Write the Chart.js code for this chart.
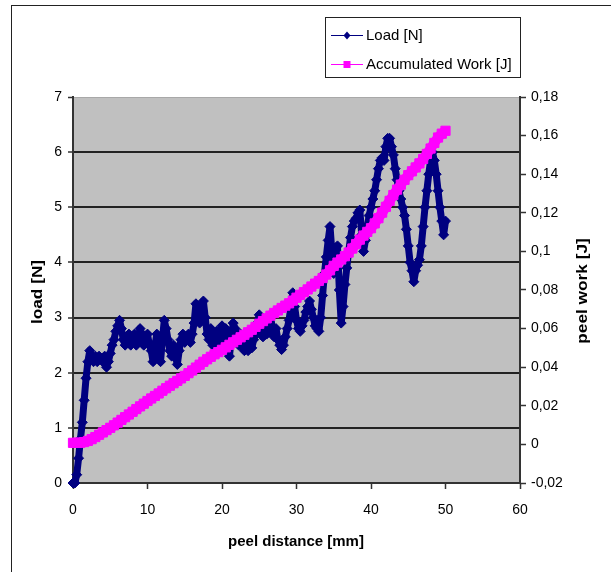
<!DOCTYPE html>
<html>
<head>
<meta charset="utf-8">
<script src="https://cdn.jsdelivr.net/npm/chart.js@4.4.0/dist/chart.umd.min.js"></script>
<style>
  html, body { margin: 0; padding: 0; background: #fff; }
</style>
</head>
<body>
<canvas id="peelChart" width="611" height="572"></canvas>
<script>
  // load samples every 0.25 mm, work samples every 0.5 mm
  const loadStep = 0.25
  const workStep = 0.5

  const loadN = [
    0.0, 0.0, 0.15, 0.45,   0.8, 1.1, 1.5, 1.9,     2.2, 2.4, 2.3, 2.2,     2.3, 2.2, 2.3, 2.25,
    2.2, 2.3, 2.1, 2.2,     2.35, 2.5, 2.6, 2.75,   2.85, 2.95, 2.8, 2.6,   2.5, 2.6, 2.7, 2.5,
    2.6, 2.7, 2.5, 2.6,     2.8, 2.7, 2.5, 2.6,     2.7, 2.5, 2.4, 2.2,     2.5, 2.7, 2.4, 2.2,
    2.6, 2.95, 2.8, 2.6,    2.4, 2.3, 2.5, 2.3,     2.15, 2.4, 2.6, 2.7,    2.55, 2.6, 2.7, 2.55,
    2.7, 2.9, 3.25, 3.1,    2.9, 3.1, 3.3, 3.0,     2.7, 2.6, 2.8, 2.5,     2.6, 2.75, 2.55, 2.7,
    2.85, 2.6, 2.8, 2.5,    2.3, 2.6, 2.9, 2.8,     2.6, 2.5, 2.7, 2.5,     2.4, 2.55, 2.4, 2.6,
    2.45, 2.6, 2.7, 2.9,    3.05, 2.8, 2.65, 2.8,   2.7, 2.9, 3.05, 2.8,    2.65, 2.8, 2.6, 2.5,
    2.42, 2.5, 2.65, 2.8,   2.95, 3.2, 3.45, 3.2,   2.95, 2.8, 2.75, 2.85,  2.95, 3.1, 3.2, 3.3,
    3.15, 3.0, 2.85, 2.8,   2.75, 3.0, 3.4, 3.8,    4.1, 4.4, 4.65, 4.2,    3.8, 4.0, 4.3, 3.5,
    2.9, 3.2, 3.6, 3.9,     4.2, 4.45, 4.65, 4.75,  4.8, 4.9, 4.95, 4.5,    4.2, 4.4, 4.65, 4.85,
    5.0, 5.15, 5.3, 5.5,    5.7, 5.85, 5.9, 5.85,   6.1, 6.25, 6.25, 6.1,   5.95, 5.7, 5.5, 5.3,
    5.15, 5.0, 4.85, 4.6,   4.3, 4.0, 3.85, 3.65,   3.85, 3.95, 4.05, 4.3,  4.65, 5.0, 5.3, 5.6,
    5.85, 6.0, 5.85, 5.6,   5.3, 5.0, 4.75, 4.5,
    4.75
  ]

  const workJ = [
    0.0008, 0.0008, 0.0009, 0.0012, 0.0018, 0.0027, 0.0038, 0.0050, 0.0062, 0.0074,
    0.0086, 0.0099, 0.0113, 0.0127, 0.0141, 0.0155, 0.0169, 0.0183, 0.0197, 0.0211,
    0.0225, 0.0238, 0.0251, 0.0264, 0.0278, 0.0291, 0.0304, 0.0317, 0.0329, 0.0342,
    0.0355, 0.0369, 0.0383, 0.0398, 0.0413, 0.0428, 0.0441, 0.0454, 0.0467, 0.0478,
    0.0490, 0.0503, 0.0516, 0.0529, 0.0542, 0.0555, 0.0568, 0.0581, 0.0594, 0.0609,
    0.0625, 0.0639, 0.0653, 0.0667, 0.0681, 0.0694, 0.0707, 0.0719, 0.0731, 0.0745,
    0.0760, 0.0775, 0.0789, 0.0803, 0.0818, 0.0833, 0.0847, 0.0862, 0.0880, 0.0902,
    0.0925, 0.0942, 0.0958, 0.0975, 0.0994, 0.1015, 0.1038, 0.1061, 0.1082, 0.1101,
    0.1120, 0.1145, 0.1172, 0.1201, 0.1231, 0.1262, 0.1292, 0.1320, 0.1346, 0.1371,
    0.1395, 0.1415, 0.1435, 0.1456, 0.1479, 0.1505, 0.1533, 0.1562, 0.1590, 0.1610,
    0.1625
  ]

  const xTicks = [0, 10, 20, 30, 40, 50, 60]
  const loadTicks = [0, 1, 2, 3, 4, 5, 6, 7]
  const workTicks = [-0.02, 0, 0.02, 0.04, 0.06, 0.08, 0.1, 0.12, 0.14, 0.16, 0.18]

  const seriesNames = ["Load [N]", "Accumulated Work [J]"]
  const navy = "#000080"
  const magenta = "#ff00ff"
  const fontFamily = "'Liberation Sans', Arial, sans-serif"

  const loadPoints = loadN.map((v, i) => ({ x: i * loadStep, y: v }))
  const workPoints = workJ.map((v, i) => ({ x: i * workStep, y: v }))

  const commaNum = (v) => String(Math.round(v * 100) / 100).replace(".", ",")

  // background, frame, legend and rotated axis titles
  const decor = {
    id: "decor",
    beforeDraw(chart) {
      const { ctx, chartArea: a } = chart
      ctx.save()
      ctx.fillStyle = "#fff"
      ctx.fillRect(0, 0, chart.width, chart.height)
      ctx.strokeStyle = "#222"
      ctx.lineWidth = 1
      ctx.strokeRect(11.5, 5.5, 800, 800)
      ctx.fillStyle = "#c0c0c0"
      ctx.fillRect(a.left, a.top, a.right - a.left, a.bottom - a.top)
      ctx.restore()
    },
    afterDraw(chart) {
      const ctx = chart.ctx
      ctx.save()

      // legend box
      ctx.fillStyle = "#fff"
      ctx.fillRect(325.5, 17.5, 195, 60)
      ctx.strokeStyle = "#222"
      ctx.lineWidth = 1
      ctx.strokeRect(325.5, 17.5, 195, 60)

      const rows = [
        { y: 35, color: navy, name: seriesNames[0], diamond: true },
        { y: 64, color: magenta, name: seriesNames[1], diamond: false },
      ]
      rows.forEach((r) => {
        ctx.strokeStyle = r.color
        ctx.lineWidth = 1
        ctx.beginPath()
        ctx.moveTo(331, r.y + 0.5)
        ctx.lineTo(363, r.y + 0.5)
        ctx.stroke()
        ctx.fillStyle = r.color
        ctx.beginPath()
        if (r.diamond) {
          ctx.moveTo(347, r.y - 3.5)
          ctx.lineTo(350.5, r.y + 0.5)
          ctx.lineTo(347, r.y + 4.5)
          ctx.lineTo(343.5, r.y + 0.5)
        } else {
          ctx.rect(343.5, r.y - 3, 7, 7)
        }
        ctx.fill()
        ctx.fillStyle = "#000"
        ctx.font = "15px " + fontFamily
        ctx.textBaseline = "middle"
        ctx.textAlign = "left"
        ctx.fillText(r.name, 366, r.y + 1)
      })

      // axis titles
      ctx.fillStyle = "#000"
      ctx.font = "bold 15px " + fontFamily
      ctx.textAlign = "center"
      ctx.textBaseline = "middle"
      ctx.fillText("peel distance [mm]", 296, 542)

      ctx.save()
      ctx.translate(38, 292)
      ctx.rotate(-Math.PI / 2)
      ctx.scale(1.15, 1)
      ctx.fillText("load [N]", 0, 0)
      ctx.restore()

      ctx.save()
      ctx.translate(583, 291)
      ctx.rotate(-Math.PI / 2)
      ctx.scale(1.15, 1)
      ctx.fillText("peel work [J]", 0, 0)
      ctx.restore()

      ctx.restore()
    },
  }

  const ctx = document.getElementById("peelChart")

  new Chart(ctx, {
    type: "line",
    data: {
      datasets: [
        {
          label: seriesNames[0],
          data: loadPoints,
          yAxisID: "y",
          order: 2,
          borderColor: navy,
          borderWidth: 7,
          borderJoinStyle: "round",
          borderCapStyle: "round",
          pointStyle: "rectRot",
          pointRadius: 5,
          pointBorderWidth: 1,
          pointBackgroundColor: navy,
          pointBorderColor: navy,
          clip: false,
        },
        {
          label: seriesNames[1],
          data: workPoints,
          yAxisID: "y1",
          order: 1,
          borderColor: magenta,
          borderWidth: 10,
          pointStyle: "rect",
          pointRadius: 6.5,
          pointBorderWidth: 1,
          pointBackgroundColor: magenta,
          pointBorderColor: magenta,
          clip: false,
        },
      ],
    },
    options: {
      responsive: false,
      animation: false,
      layout: { padding: { top: 97, left: 0, right: 0, bottom: 0 } },
      font: { family: fontFamily },
      plugins: {
        legend: { display: false },
        tooltip: { enabled: false },
      },
      scales: {
        x: {
          type: "linear",
          min: xTicks[0],
          max: xTicks[xTicks.length - 1],
          afterFit: (s) => { s.height = 89 },
          afterBuildTicks: (s) => { s.ticks = xTicks.map((v) => ({ value: v })) },
          ticks: { color: "#000", padding: 13, font: { family: fontFamily, size: 14 } },
          grid: { drawOnChartArea: false, tickLength: 6, tickColor: "#333", tickWidth: 1.5 },
          border: { color: "#333", width: 2 },
        },
        y: {
          position: "left",
          min: loadTicks[0],
          max: loadTicks[loadTicks.length - 1],
          afterFit: (s) => { s.width = 73 },
          afterBuildTicks: (s) => { s.ticks = loadTicks.map((v) => ({ value: v })) },
          ticks: { color: "#000", padding: 6, font: { family: fontFamily, size: 14 } },
          grid: {
            color: (c) => (c.tick && c.tick.value === 7 ? "#a8a8a8" : "#222"),
            lineWidth: (c) => (c.tick && c.tick.value === 7 ? 1 : 2),
            tickLength: 5,
            tickColor: "#333",
            tickWidth: 1.5,
          },
          border: { color: "#333", width: 2 },
        },
        y1: {
          position: "right",
          min: workTicks[0],
          max: workTicks[workTicks.length - 1],
          afterFit: (s) => { s.width = 91 },
          afterBuildTicks: (s) => { s.ticks = workTicks.map((v) => ({ value: v })) },
          ticks: {
            color: "#000",
            padding: 5,
            font: { family: fontFamily, size: 14 },
            callback: (v) => commaNum(v),
          },
          grid: { drawOnChartArea: false, tickLength: 6, tickColor: "#333", tickWidth: 1.5 },
          border: { color: "#333", width: 2 },
        },
      },
    },
    plugins: [decor],
  })
</script>
</body>
</html>
